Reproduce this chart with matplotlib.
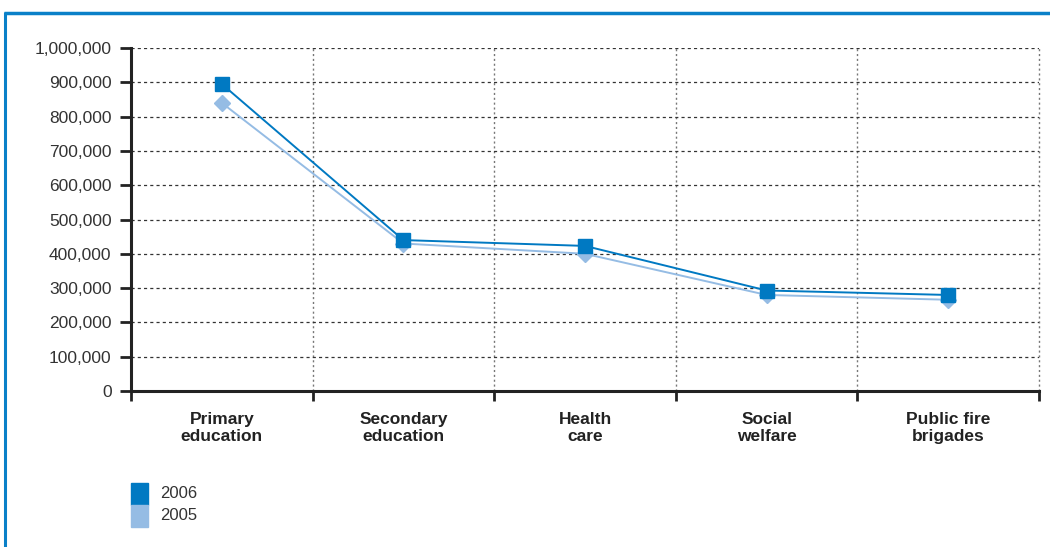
import matplotlib
matplotlib.use("Agg")
import matplotlib.pyplot as plt
from matplotlib.lines import Line2D
from matplotlib.patches import Rectangle
from matplotlib.ticker import FuncFormatter

categories = ["Primary\neducation", "Secondary\neducation", "Health\ncare",
              "Social\nwelfare", "Public fire\nbrigades"]
values_2006 = [895000, 440000, 423000, 293000, 280000]
values_2005 = [840000, 430000, 400000, 280000, 266000]
y_ticks = [0, 100000, 200000, 300000, 400000, 500000, 600000, 700000, 800000, 900000, 1000000]

c2006 = "#0079C2"
c2005 = "#95BCE4"
frame_blue = "#0A80C8"

plt.rcParams['font.family'] = ['Liberation Sans', 'DejaVu Sans']

fig = plt.figure(figsize=(10.5, 5.47), dpi=100)
ax = fig.add_axes([131/1050, 1 - 391/547, 908/1050, 343/547])

xs = [i + 0.5 for i in range(len(categories))]
ax.plot(xs, values_2005, color=c2005, lw=1.4, marker="D", ms=8.5,
        mfc=c2005, mec=c2005, zorder=3)
ax.plot(xs, values_2006, color=c2006, lw=1.4, marker="s", ms=9.5,
        mfc=c2006, mec=c2006, zorder=4)

ax.set_xlim(0, len(categories))
ax.set_ylim(0, 1000000)
ax.set_yticks(y_ticks)
ax.yaxis.set_major_formatter(FuncFormatter(lambda v, p: f"{int(v):,}"))
ax.set_xticks(range(len(categories) + 1))
ax.set_xticklabels([])
ax.set_xticks(xs, minor=True)
ax.set_xticklabels(categories, minor=True, fontweight="bold", fontsize=12.5,
                   color="#222222", linespacing=1.2)
ax.tick_params(axis="x", which="minor", length=0, pad=15)
ax.tick_params(axis="x", which="major", length=7, width=2, direction="out", color="#222222")
ax.tick_params(axis="y", length=8, width=2, direction="out", color="#222222",
               labelsize=12.5, labelcolor="#333333", pad=6)

ax.grid(axis="y", which="major", linestyle=(0, (2.5, 2.5)), color="#333333", lw=0.9)
ax.grid(axis="x", which="major", linestyle=(0, (1.5, 2)), color="#777777", lw=1.0)
for gl in ax.get_xgridlines():
    gl.set_clip_on(False)
for s in ["top", "right"]:
    ax.spines[s].set_visible(False)
ax.spines["left"].set_linewidth(2.2)
ax.spines["bottom"].set_linewidth(2.2)
ax.spines["left"].set_color("#222222")
ax.spines["bottom"].set_color("#222222")
ax.set_axisbelow(True)

# outer frame: top and left blue rules
fig.add_artist(Line2D([3.5/1050, 1], [1 - 13/547, 1 - 13/547], color=frame_blue, lw=2.5,
                      transform=fig.transFigure, solid_capstyle="butt"))
fig.add_artist(Line2D([4.5/1050, 4.5/1050], [0, 1 - 12/547], color=frame_blue, lw=2.2,
                      transform=fig.transFigure, solid_capstyle="butt"))

# legend swatches
for i, (lab, col) in enumerate([("2006", c2006), ("2005", c2005)]):
    top = 483 + i * 22
    fig.add_artist(Rectangle((131/1050, 1 - (top + 22)/547), 17/1050, 22/547,
                             color=col, transform=fig.transFigure))
    fig.text(160/1050, 1 - (top + 11)/547, lab, fontsize=12, color="#333333",
             va="center", ha="left")

fig.savefig("out.png", dpi=100)
